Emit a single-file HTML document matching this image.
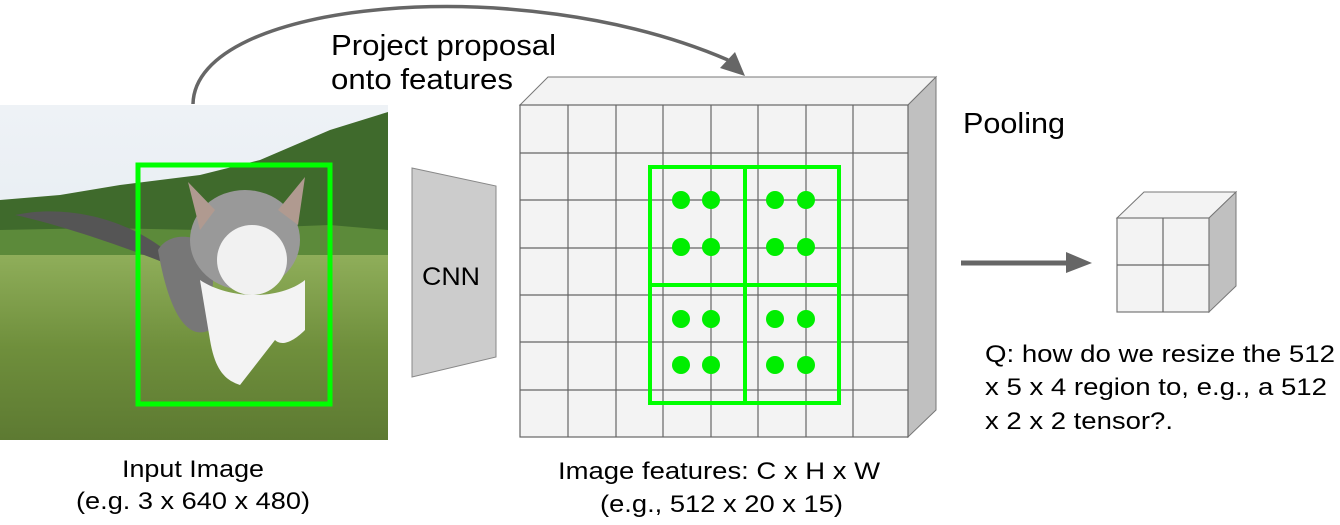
<!DOCTYPE html>
<html><head><style>
body{margin:0;width:1340px;height:525px;background:#fff;overflow:hidden;font-family:"Liberation Sans",Arial,sans-serif;}
</style></head><body>
<svg width="1340" height="525" xmlns="http://www.w3.org/2000/svg" style="position:absolute;left:0;top:0">
<defs>
<linearGradient id="sky" x1="0" y1="0" x2="0" y2="1"><stop offset="0" stop-color="#eef2f6"/><stop offset="1" stop-color="#dfe7ee"/></linearGradient>
<linearGradient id="grass" x1="0" y1="0" x2="0" y2="1"><stop offset="0" stop-color="#8fae5a"/><stop offset="0.5" stop-color="#6f8f3c"/><stop offset="1" stop-color="#5d7a32"/></linearGradient>
</defs>
<rect x="0" y="105" width="388" height="335" fill="url(#sky)"/>
<path d="M0,200 L60,195 L120,185 L200,175 L260,160 L330,130 L388,112 L388,240 L0,260 Z" fill="#3f6a2c"/>
<path d="M0,230 L100,228 L200,230 L330,225 L388,230 L388,270 L0,270 Z" fill="#5c8a3a"/>
<rect x="0" y="255" width="388" height="185" fill="url(#grass)"/>
<path d="M15,215 C60,205 120,215 165,250 L170,265 C120,245 60,225 15,215 Z" fill="#555"/>
<path d="M158,250 C170,230 200,235 215,250 L210,330 C190,340 170,320 158,250 Z" fill="#777"/>
<ellipse cx="245" cy="240" rx="55" ry="50" fill="#999"/>
<path d="M188,182 L215,210 L200,230 Z M305,177 L298,225 L278,210 Z" fill="#b09a90"/>
<ellipse cx="252" cy="260" rx="35" ry="35" fill="#f1f1f1"/>
<path d="M200,280 C230,300 280,300 305,280 L305,330 C290,345 280,345 275,340 L240,385 C225,380 215,370 210,340 Z" fill="#f3f3f3"/>
<rect x="138" y="165" width="192" height="239" fill="none" stroke="#00ff00" stroke-width="5"/>
<path d="M193,104 C195,0 520,-30 728,60" fill="none" stroke="#666" stroke-width="3.5"/>
<polygon points="745,76 720,68 735,52" fill="#666"/>
<polygon points="412,168 496,186 496,357 412,377" fill="#cccccc" stroke="#888" stroke-width="1"/>
<polygon points="520,105 548,77 936,77 908,105" fill="#f3f3f3" stroke="#777" stroke-width="1"/>
<polygon points="908,105 936,77 936,410 908,437" fill="#c0c0c0" stroke="#777" stroke-width="1"/>
<rect x="520" y="105" width="388" height="332" fill="#f3f3f3" stroke="#666" stroke-width="1.2"/>
<g stroke="#666" stroke-width="1.2">
<line x1="568" y1="105" x2="568" y2="437"/><line x1="616" y1="105" x2="616" y2="437"/><line x1="663" y1="105" x2="663" y2="437"/><line x1="711" y1="105" x2="711" y2="437"/><line x1="758" y1="105" x2="758" y2="437"/><line x1="806" y1="105" x2="806" y2="437"/><line x1="853" y1="105" x2="853" y2="437"/>
<line x1="520" y1="153" x2="908" y2="153"/><line x1="520" y1="200" x2="908" y2="200"/><line x1="520" y1="248" x2="908" y2="248"/><line x1="520" y1="295" x2="908" y2="295"/><line x1="520" y1="342" x2="908" y2="342"/><line x1="520" y1="390" x2="908" y2="390"/>
</g>
<g stroke="#00ff00" stroke-width="4" fill="none">
<rect x="650" y="167" width="189" height="236"/>
<line x1="745" y1="167" x2="745" y2="403"/><line x1="650" y1="285" x2="839" y2="285"/>
</g>
<g fill="#00ee00">
<circle cx="681" cy="200" r="9"/><circle cx="711" cy="200" r="9"/><circle cx="775" cy="200" r="9"/><circle cx="806" cy="200" r="9"/>
<circle cx="681" cy="247" r="9"/><circle cx="711" cy="247" r="9"/><circle cx="775" cy="247" r="9"/><circle cx="806" cy="247" r="9"/>
<circle cx="681" cy="319" r="9"/><circle cx="711" cy="319" r="9"/><circle cx="775" cy="319" r="9"/><circle cx="806" cy="319" r="9"/>
<circle cx="681" cy="365" r="9"/><circle cx="711" cy="365" r="9"/><circle cx="775" cy="365" r="9"/><circle cx="806" cy="365" r="9"/>
</g>
<line x1="961" y1="263" x2="1070" y2="263" stroke="#666" stroke-width="5"/>
<polygon points="1066,252 1092,263 1066,273" fill="#666"/>
<polygon points="1117,218 1144,192 1236,192 1209,218" fill="#f3f3f3" stroke="#777" stroke-width="1"/>
<polygon points="1209,218 1236,192 1236,286 1209,312" fill="#c0c0c0" stroke="#777" stroke-width="1"/>
<rect x="1117" y="218" width="92" height="94" fill="#f3f3f3" stroke="#777" stroke-width="1.2"/>
<line x1="1163" y1="218" x2="1163" y2="312" stroke="#666" stroke-width="1.2"/>
<line x1="1117" y1="265" x2="1209" y2="265" stroke="#666" stroke-width="1.2"/>
<g font-family="Liberation Sans, Arial, sans-serif" fill="#000" lengthAdjust="spacingAndGlyphs">
<text x="331" y="55" font-size="29" textLength="225" lengthAdjust="spacingAndGlyphs">Project proposal</text>
<text x="331" y="89" font-size="29" textLength="182" lengthAdjust="spacingAndGlyphs">onto features</text>
<text x="963" y="133" font-size="29" textLength="102" lengthAdjust="spacingAndGlyphs">Pooling</text>
<text x="422" y="285" font-size="25" textLength="58" lengthAdjust="spacingAndGlyphs">CNN</text>
<text x="122" y="477" font-size="24" textLength="142" lengthAdjust="spacingAndGlyphs">Input Image</text>
<text x="76" y="509" font-size="24" textLength="234" lengthAdjust="spacingAndGlyphs">(e.g. 3 x 640 x 480)</text>
<text x="558" y="479" font-size="24" textLength="322" lengthAdjust="spacingAndGlyphs">Image features: C x H x W</text>
<text x="600" y="512" font-size="24" textLength="243" lengthAdjust="spacingAndGlyphs">(e.g., 512 x 20 x 15)</text>
<text x="985" y="362" font-size="24" textLength="350" lengthAdjust="spacingAndGlyphs">Q: how do we resize the 512</text>
<text x="985" y="395" font-size="24" textLength="342" lengthAdjust="spacingAndGlyphs">x 5 x 4 region to, e.g., a 512</text>
<text x="985" y="429" font-size="24" textLength="188" lengthAdjust="spacingAndGlyphs">x 2 x 2 tensor?.</text>
</g>
</svg>
</body></html>
